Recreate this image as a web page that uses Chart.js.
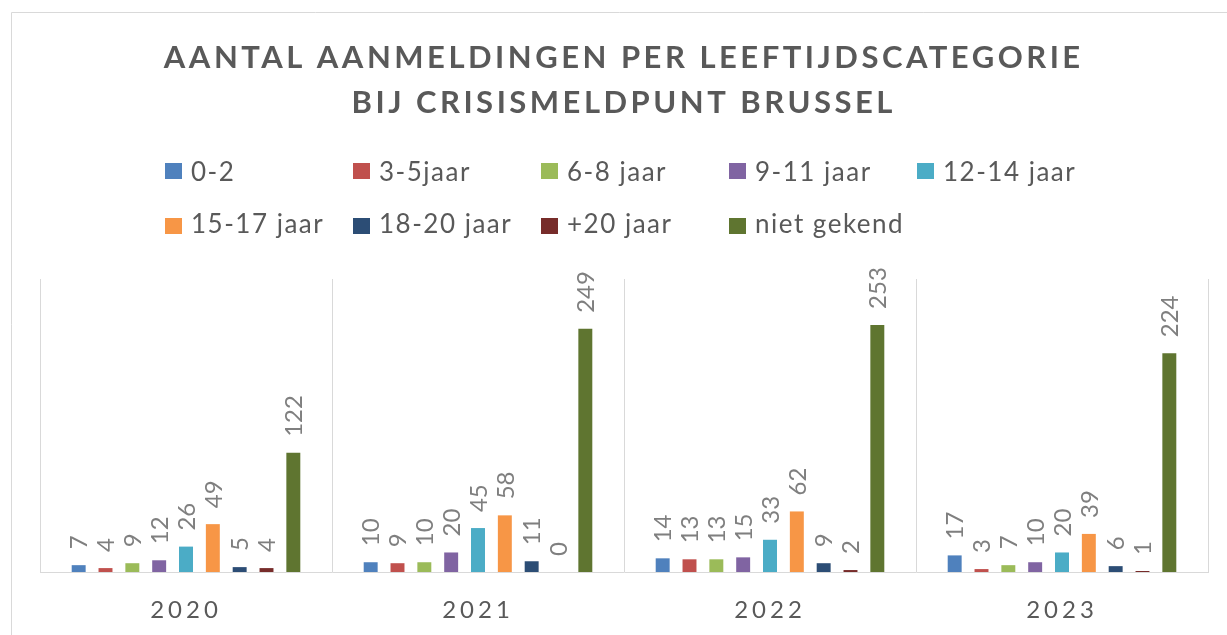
<!DOCTYPE html>
<html><head><meta charset="utf-8">
<script src="https://cdn.jsdelivr.net/npm/chart.js@4/dist/chart.umd.min.js"></script>
<style>html,body{margin:0;padding:0;background:#fff;overflow:hidden}canvas{display:block}</style>
</head><body>
<canvas id="c" width="1227" height="635"></canvas>
<script>
const titleLines = ['AANTAL AANMELDINGEN PER LEEFTIJDSCATEGORIE', 'BIJ CRISISMELDPUNT BRUSSEL'];
const years = ['2020', '2021', '2022', '2023'];
const seriesNames = ['0-2', '3-5jaar', '6-8 jaar', '9-11 jaar', '12-14 jaar', '15-17 jaar', '18-20 jaar', '+20 jaar', 'niet gekend'];
const seriesColors = ['#4F81BD', '#C0504D', '#9BBB59', '#8064A2', '#4BACC6', '#F79646', '#2C4D75', '#772C2A', '#5F7530'];
const v0_2     = [7, 10, 14, 17];
const v3_5     = [4, 9, 13, 3];
const v6_8     = [9, 10, 13, 7];
const v9_11    = [12, 20, 15, 10];
const v12_14   = [26, 45, 33, 20];
const v15_17   = [49, 58, 62, 39];
const v18_20   = [5, 11, 9, 6];
const v20plus  = [4, 0, 2, 1];
const vUnknown = [122, 249, 253, 224];
const seriesValues = [v0_2, v3_5, v6_8, v9_11, v12_14, v15_17, v18_20, v20plus, vUnknown];

const FONT = 'Lato, "Open Sans", sans-serif';
Chart.defaults.font.family = FONT;

const decor = {
  id: 'decor',
  beforeDraw(chart) {
    const ctx = chart.ctx;
    ctx.save();
    ctx.strokeStyle = '#d9d9d9';
    ctx.lineWidth = 1;
    ctx.beginPath();
    ctx.moveTo(11.5, 700); ctx.lineTo(11.5, 12.5); ctx.lineTo(1300, 12.5);
    ctx.stroke();
    ctx.restore();
    ctx.letterSpacing = '4px';
  },
  beforeDatasetsDraw(chart) { chart.ctx.letterSpacing = '0px'; },
  afterDatasetsDraw(chart) {
    const ctx = chart.ctx;
    ctx.save();
    ctx.letterSpacing = '0px';
    ctx.font = '24px ' + FONT;
    ctx.fillStyle = '#7f7f7f';
    ctx.textAlign = 'left';
    ctx.textBaseline = 'middle';
    chart.data.datasets.forEach((ds, di) => {
      const meta = chart.getDatasetMeta(di);
      meta.data.forEach((bar, j) => {
        ctx.save();
        ctx.translate(bar.x + 1, bar.y - 16);
        ctx.rotate(-Math.PI / 2);
        ctx.fillText(String(ds.data[j]), 0, 0);
        ctx.restore();
      });
    });
    ctx.restore();
  },
  afterDraw(chart) {
    const ctx = chart.ctx;
    ctx.save();
    // title
    ctx.fillStyle = '#595959';
    ctx.font = 'bold 31px ' + FONT;
    ctx.textAlign = 'left';
    ctx.textBaseline = 'alphabetic';
    const ls = 3.5;
    [68, 113].forEach((y, i) => {
      const t = titleLines[i];
      ctx.letterSpacing = '0px';
      const w = ctx.measureText(t).width + ls * (t.length - 1);
      ctx.letterSpacing = ls + 'px';
      ctx.fillText(t, 622 - w / 2, y);
    });
    // legend
    ctx.font = '26px ' + FONT;
    ctx.letterSpacing = '1.5px';
    chart.data.datasets.forEach((ds, i) => {
      const row = i < 5 ? 0 : 1;
      const col = i < 5 ? i : i - 5;
      const x = 165 + 188 * col;
      const mid = row ? 226 : 171;
      ctx.fillStyle = ds.backgroundColor;
      ctx.fillRect(x, mid - 8, 17, 16);
      ctx.fillStyle = '#595959';
      ctx.fillText(ds.label, x + 26, row ? 233 : 181);
    });
    ctx.restore();
  }
};

new Chart(document.getElementById('c'), {
  type: 'bar',
  data: {
    labels: years,
    datasets: seriesNames.map((n, i) => ({
      label: n,
      data: seriesValues[i],
      backgroundColor: seriesColors[i],
      borderWidth: 0,
      categoryPercentage: 0.827,
      barPercentage: 0.52
    }))
  },
  options: {
    responsive: false,
    devicePixelRatio: 1,
    animation: false,
    layout: { padding: { left: 40, right: 19, top: 279, bottom: 0 } },
    plugins: { legend: { display: false }, title: { display: false }, tooltip: { enabled: false } },
    scales: {
      x: {
        grid: { offset: true, color: '#d9d9d9', drawTicks: false, lineWidth: 1 },
        border: { color: '#d9d9d9' },
        ticks: { color: '#595959', font: { family: FONT, size: 24 }, padding: 24 },
        afterFit(s) { s.height = 63; }
      },
      y: { display: false, min: 0, max: 300 }
    }
  },
  plugins: [decor]
});
</script>
</body></html>
